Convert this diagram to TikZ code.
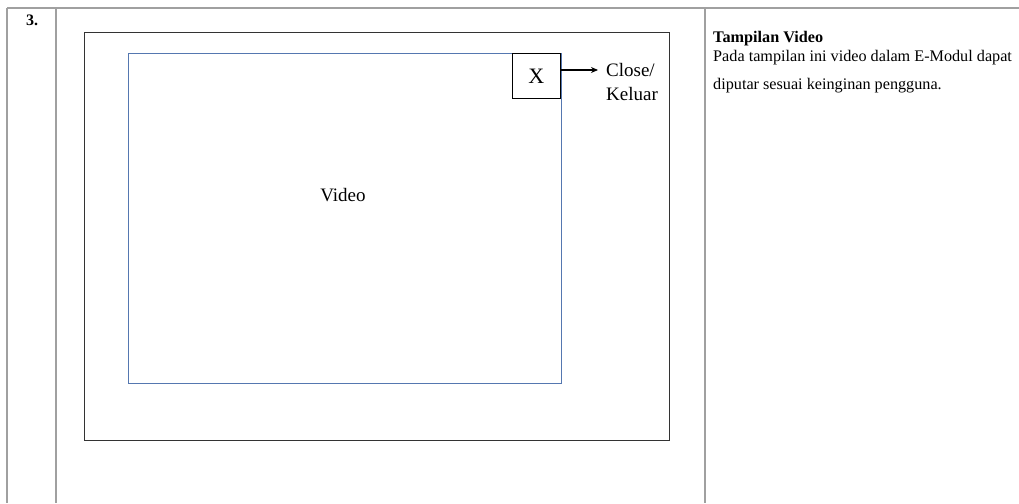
\documentclass[tikz,border=0pt]{standalone}
\usepackage{fontspec}
\setmainfont{Liberation Serif}
\usetikzlibrary{arrows.meta}
\definecolor{tblgray}{HTML}{A0A0A0}
\definecolor{boxblue}{HTML}{5577B0}
\tikzset{
  tbl/.style={draw=tblgray, line width=1.5pt},
  outerbox/.style={draw=black!80, line width=1.3pt},
  innerbox/.style={draw=boxblue, line width=1.4pt},
  lbl/.style={font=\fontsize{19}{22}\selectfont, inner sep=0pt},
  desc/.style={font=\fontsize{16.2}{19}\selectfont, inner sep=0pt, anchor=base west},
}
\begin{document}
\begin{tikzpicture}[x=1pt,y=-1pt]
\useasboundingbox (0,0) rectangle (1019,503);
% table
\draw[tbl] (7,8) -- (1019,8);
\draw[tbl] (7,8) -- (7,503);
\draw[tbl] (56,8) -- (56,503);
\draw[tbl] (705,8) -- (705,503);
\node[font=\bfseries\fontsize{16}{19}\selectfont, inner sep=0pt, anchor=base] (num) at (32,26) {3.};
% diagram
\node[outerbox, minimum width=585pt, minimum height=408pt, inner sep=0pt, anchor=north west] (outer) at (84,32) {};
\node[innerbox, minimum width=433pt, minimum height=330pt, inner sep=0pt, anchor=north west] (video) at (128,53) {};
\node[lbl, anchor=base] (vlabel) at (343,201) {Video};
\node[draw=black, line width=1.3pt, minimum width=48pt, minimum height=45pt, inner sep=0pt, anchor=north east, font=\fontsize{22}{24}\selectfont] (xbtn) at (561,53) {X};
\node[lbl, align=left, anchor=west, font=\fontsize{19}{24}\selectfont] (close) at (606,82) {Close/\\Keluar};
\coordinate (arrend) at (598,70);
\draw[-{Stealth[length=7pt,width=6pt]}, line width=1.4pt] (xbtn.east |- arrend) -- (arrend);
% description
\node[desc, font=\bfseries\fontsize{16.2}{19}\selectfont] (title) at (713,43) {Tampilan Video};
\node[desc] (line1) at (713,61) {Pada tampilan ini video dalam E-Modul dapat};
\node[desc] (line2) at (713,89) {diputar sesuai keinginan pengguna.};
\end{tikzpicture}
\end{document}
